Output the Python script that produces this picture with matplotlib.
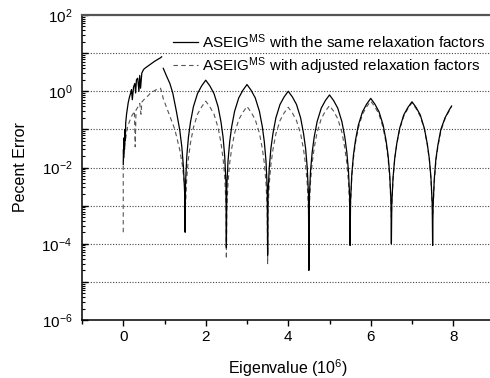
import numpy as np
import matplotlib
matplotlib.use('Agg')
import matplotlib.pyplot as plt
from matplotlib.ticker import LogLocator, MultipleLocator, FuncFormatter, NullFormatter

plt.rcParams['font.family'] = ['Liberation Sans', 'DejaVu Sans']
plt.rcParams['mathtext.fontset'] = 'custom'
plt.rcParams['mathtext.rm'] = 'Liberation Sans'
plt.rcParams['mathtext.it'] = 'Liberation Sans:italic'

# first (noisy) part, 0 .. 1.5
solid_x0 = [0.0, 0.005, 0.01, 0.02, 0.03, 0.04, 0.05, 0.06, 0.08, 0.10,
            0.12, 0.15, 0.18, 0.20, 0.22, 0.25, 0.28, 0.30, 0.32, 0.35,
            0.38, 0.40, 0.42, 0.45, 0.48, 0.50, 0.55, 0.60, 0.65, 0.70,
            0.75, 0.80, 0.85, 0.90, 0.93, np.nan,
            0.97, 1.05, 1.13, 1.20, 1.29, 1.37, 1.42, 1.46, 1.49]
solid_y0 = [0.012, 0.03, 0.018, 0.06, 0.03, 0.1, 0.05, 0.15, 0.25, 0.35,
            0.5, 0.7, 0.9, 1.1, 0.6, 1.3, 1.6, 0.9, 2.0, 2.2,
            1.0, 2.6, 1.2, 3.0, 3.5, 3.8, 4.2, 4.6, 5.0, 5.5,
            6.0, 6.5, 7.0, 7.5, 8.0, np.nan,
            4.0, 2.5, 1.6, 0.9, 0.29, 0.095, 0.035, 0.01, 0.002]

dash_x0 = [0.0, 0.0, 0.01, 0.03, 0.05, 0.08, 0.10, 0.13, 0.16, 0.20,
           0.24, 0.27, 0.29, 0.31, 0.35, 0.40, 0.43, 0.45, 0.50, 0.55,
           0.60, 0.65, 0.70, 0.75, 0.80, 0.85, 0.90, 0.93, 0.97, 1.09,
           1.25, 1.37, 1.43, 1.47, 1.49]
dash_y0 = [2e-4, 0.01, 0.02, 0.03, 0.05, 0.08, 0.11, 0.14, 0.17, 0.22,
           0.26, 0.3, 0.035, 0.32, 0.38, 0.48, 0.25, 0.52, 0.6, 0.68,
           0.76, 0.87, 0.95, 1.02, 1.1, 1.15, 1.2, 1.0, 0.64, 0.29,
           0.1, 0.029, 0.012, 0.005, 0.003]

# lobes 1.5 .. 8 (both curves share these eigenvalues)
lobe_x = [1.50,
          1.51, 1.54, 1.58, 1.63, 1.70, 1.80, 1.90, 2.00, 2.10, 2.20, 2.30, 2.37, 2.42, 2.46, 2.49, 2.50,
          2.51, 2.54, 2.58, 2.63, 2.70, 2.80, 2.90, 3.00, 3.10, 3.20, 3.30, 3.37, 3.42, 3.46, 3.49, 3.50,
          3.51, 3.54, 3.58, 3.63, 3.70, 3.80, 3.90, 4.00, 4.10, 4.20, 4.30, 4.37, 4.42, 4.46, 4.49, 4.50,
          4.51, 4.54, 4.58, 4.63, 4.70, 4.80, 4.90, 5.00, 5.10, 5.20, 5.30, 5.37, 5.42, 5.46, 5.49, 5.50,
          5.51, 5.54, 5.58, 5.63, 5.70, 5.80, 5.90, 6.00, 6.10, 6.20, 6.30, 6.37, 6.42, 6.46, 6.49, 6.50,
          6.51, 6.54, 6.58, 6.63, 6.70, 6.80, 6.90, 7.00, 7.10, 7.20, 7.30, 7.37, 7.42, 7.46, 7.49, 7.50,
          7.51, 7.54, 7.58, 7.63, 7.70, 7.80, 7.90, 7.96]

solid_y = [2e-4,
           0.0039, 0.0195, 0.062, 0.155, 0.39, 0.87, 1.38, 1.95, 1.38, 0.87, 0.39, 0.155, 0.062, 0.0195, 0.0039, 8e-5,
           0.003, 0.015, 0.047, 0.12, 0.3, 0.67, 1.06, 1.5, 1.06, 0.67, 0.3, 0.12, 0.047, 0.015, 0.003, 5e-5,
           0.002, 0.01, 0.032, 0.079, 0.2, 0.45, 0.71, 1.0, 0.71, 0.45, 0.2, 0.079, 0.032, 0.01, 0.002, 2e-5,
           0.0016, 0.008, 0.025, 0.064, 0.16, 0.36, 0.57, 0.8, 0.57, 0.36, 0.16, 0.064, 0.025, 0.008, 0.0016, 9e-5,
           0.0013, 0.0065, 0.021, 0.052, 0.13, 0.29, 0.46, 0.65, 0.46, 0.29, 0.13, 0.052, 0.021, 0.0065, 0.0013, 1e-4,
           0.0011, 0.0053, 0.017, 0.042, 0.106, 0.24, 0.375, 0.53, 0.375, 0.24, 0.106, 0.042, 0.017, 0.0053, 0.0011, 9e-5,
           0.0009, 0.005, 0.017, 0.04, 0.1, 0.2, 0.32, 0.41]

dash_y = [1.5e-3,
          0.0011, 0.0055, 0.017, 0.044, 0.11, 0.25, 0.39, 0.55, 0.39, 0.25, 0.11, 0.044, 0.017, 0.0055, 0.0011, 4e-5,
          0.0008, 0.004, 0.013, 0.032, 0.08, 0.18, 0.28, 0.4, 0.28, 0.18, 0.08, 0.032, 0.013, 0.004, 0.0008, 3e-5,
          0.00076, 0.0038, 0.012, 0.03, 0.076, 0.17, 0.27, 0.38, 0.27, 0.17, 0.076, 0.03, 0.012, 0.0038, 0.00076, 3e-4,
          0.00084, 0.0042, 0.013, 0.033, 0.084, 0.19, 0.3, 0.42, 0.3, 0.19, 0.084, 0.033, 0.013, 0.0042, 0.00084, 1.5e-4,
          0.0011, 0.0055, 0.017, 0.044, 0.11, 0.25, 0.39, 0.55, 0.39, 0.25, 0.11, 0.044, 0.017, 0.0055, 0.0011, 5e-4,
          0.001, 0.005, 0.016, 0.04, 0.1, 0.22, 0.35, 0.5, 0.35, 0.22, 0.1, 0.04, 0.016, 0.005, 0.001, 5e-4,
          0.0008, 0.004, 0.015, 0.036, 0.09, 0.19, 0.3, 0.4]

label_solid = 'ASEIG$^{\\mathrm{MS}}$ with the same relaxation factors'
label_dash = 'ASEIG$^{\\mathrm{MS}}$ with adjusted relaxation factors'

fig = plt.figure(figsize=(4.9, 3.78), dpi=100)
ax = fig.add_axes([82 / 490, 1 - 320 / 378, 412.5 / 490, 305 / 378])

ax.plot(solid_x0 + lobe_x, solid_y0 + solid_y, color='black', lw=0.9, label=label_solid, zorder=3)
ax.plot(dash_x0 + lobe_x, dash_y0 + dash_y, color='#555555', lw=0.8, dashes=(4, 3),
        label=label_dash, zorder=2)

ax.set_yscale('log')
ax.set_ylim(1e-6, 1e2)
ax.set_xlim(-1, 9)

# dotted lines at every decade
for e in range(-5, 2):
    ax.axhline(10.0 ** e, color='#444444', lw=0.8, ls=(0, (1, 1.5)), zorder=1)

ax.yaxis.set_major_locator(LogLocator(base=10, numticks=20))
ax.yaxis.set_minor_locator(LogLocator(base=10, subs=np.arange(2, 10), numticks=20))
ax.yaxis.set_major_formatter(FuncFormatter(
    lambda v, p: '10$^{%d}$' % round(np.log10(v)) if round(np.log10(v)) % 2 == 0 else ''))
ax.yaxis.set_minor_formatter(NullFormatter())
ax.xaxis.set_major_locator(MultipleLocator(2))
ax.xaxis.set_minor_locator(MultipleLocator(1))

ax.tick_params(axis='y', which='major', direction='in', length=4, width=1, labelsize=11, pad=7)
ax.tick_params(axis='y', which='minor', direction='in', length=2.5, width=0.8)
ax.tick_params(axis='x', which='major', direction='out', length=4.5, width=1, labelsize=11, pad=3)
ax.tick_params(axis='x', which='minor', direction='out', length=3, width=1)

ax.spines['left'].set_linewidth(1.1)
ax.spines['bottom'].set_linewidth(1.1)
ax.spines['top'].set_linewidth(1.6)
ax.spines['top'].set_color('#555555')
ax.spines['right'].set_visible(False)

ax.set_xlabel('Eigenvalue (10$^{6}$)', fontsize=11.5, labelpad=9)
ax.set_ylabel('Pecent Error', fontsize=11.5, labelpad=10)

ax.legend(loc='upper left', bbox_to_anchor=(173 / 490, 1 - 32 / 378),
          bbox_transform=fig.transFigure, frameon=False, fontsize=11,
          handlelength=1.65, handletextpad=0.28, borderpad=0, borderaxespad=0,
          labelspacing=0.3)

fig.savefig('out.png', dpi=100)
